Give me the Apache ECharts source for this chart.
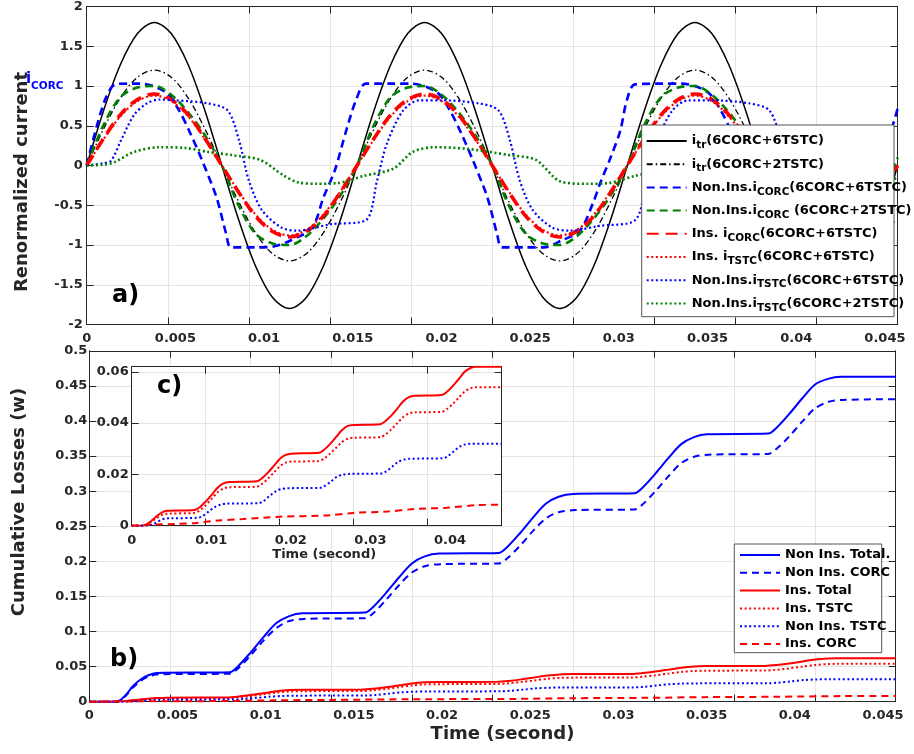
<!DOCTYPE html>
<html><head><meta charset="utf-8">
<script src="https://cdn.jsdelivr.net/npm/echarts@6/dist/echarts.min.js"></script>
<style>html,body{margin:0;padding:0;background:#fff}#c{width:914px;height:754px}</style>
</head><body><div id="c"></div>
<script>
// ---------------- DATA ----------------
// a) top panel: time (s) samples (every 1/16 of a 60 Hz cycle) for the regularly sampled curves
const timeTop = [0,0.00104,0.00208,0.00313,0.00417,0.00521,0.00625,0.00729,0.00833,0.00938,0.01042,0.01146,0.0125,0.01354,0.01458,0.01563,0.01667,0.01771,0.01875,0.01979,0.02083,0.02188,0.02292,0.02396,0.025,0.02604,0.02708,0.02813,0.02917,0.03021,0.03125,0.03229,0.03333,0.03438,0.03542,0.03646,0.0375,0.03854,0.03958,0.04063,0.04167,0.04271,0.04375,0.04479,0.04583,0.04688,0.04792,0.04896,0.05];
const itr66 = [0,0.69,1.27,1.66,1.8,1.66,1.27,0.69,0,-0.69,-1.27,-1.66,-1.8,-1.66,-1.27,-0.69,0,0.69,1.27,1.66,1.8,1.66,1.27,0.69,0,-0.69,-1.27,-1.66,-1.8,-1.66,-1.27,-0.69,0,0.69,1.27,1.66,1.8,1.66,1.27,0.69,0,-0.69,-1.27,-1.66,-1.8,-1.66,-1.27,-0.69,0];
const itr62 = [0,0.46,0.85,1.11,1.2,1.11,0.85,0.46,0,-0.46,-0.85,-1.11,-1.2,-1.11,-0.85,-0.46,0,0.46,0.85,1.11,1.2,1.11,0.85,0.46,0,-0.46,-0.85,-1.11,-1.2,-1.11,-0.85,-0.46,0,0.46,0.85,1.11,1.2,1.11,0.85,0.46,0,-0.46,-0.85,-1.11,-1.2,-1.11,-0.85,-0.46,0];
const nonInsCorc62 = [0,0.51,0.86,0.98,1.0,0.89,0.67,0.38,0,-0.51,-0.86,-0.98,-1.0,-0.89,-0.67,-0.38,0,0.51,0.86,0.98,1.0,0.89,0.67,0.38,0,-0.51,-0.86,-0.98,-1.0,-0.89,-0.67,-0.38,0,0.51,0.86,0.98,1.0,0.89,0.67,0.38,0,-0.51,-0.86,-0.98,-1.0,-0.89,-0.67,-0.38,0.1];
const insCorcCur = [0,0.34,0.64,0.83,0.9,0.83,0.64,0.34,0,-0.34,-0.64,-0.83,-0.9,-0.83,-0.64,-0.34,0,0.34,0.64,0.83,0.9,0.83,0.64,0.34,0,-0.34,-0.64,-0.83,-0.9,-0.83,-0.64,-0.34,0,0.34,0.64,0.83,0.9,0.83,0.64,0.34,0,-0.34,-0.64,-0.83,-0.9,-0.83,-0.64,-0.34,0];
const insTstcCur = [0,0.33,0.62,0.81,0.88,0.81,0.62,0.33,0,-0.33,-0.62,-0.81,-0.88,-0.81,-0.62,-0.33,0,0.33,0.62,0.81,0.88,0.81,0.62,0.33,0,-0.33,-0.62,-0.81,-0.88,-0.81,-0.62,-0.33,0,0.33,0.62,0.81,0.88,0.81,0.62,0.33,0,-0.33,-0.62,-0.81,-0.88,-0.81,-0.62,-0.33,0];
// irregularly read curves: [time (s), value]
const nonInsCorc66 = [[0,0],[0.0006,0.48],[0.0012,0.86],[0.00175,1.02],[0.0025,1.03],[0.0033,1.03],[0.0049,0.92],[0.0057,0.69],[0.0064,0.4],[0.0071,0.07],[0.008,-0.4],[0.0086,-0.86],[0.0089,-1.03],[0.0105,-1.03],[0.0115,-1.02],[0.0125,-0.95],[0.0139,-0.78],[0.0146,-0.4],[0.0153,-0.06],[0.016,0.44],[0.0166,0.82],[0.0172,1.03],[0.0186,1.03],[0.02,1.03],[0.0216,0.92],[0.0224,0.69],[0.0231,0.4],[0.0238,0.07],[0.0247,-0.4],[0.0253,-0.86],[0.0256,-1.03],[0.027,-1.03],[0.0282,-1.03],[0.0292,-0.95],[0.0304,-0.82],[0.0312,-0.48],[0.0317,-0.2],[0.0323,0.1],[0.0329,0.44],[0.0333,0.82],[0.0338,1.02],[0.0355,1.03],[0.0367,1.03],[0.0383,0.92],[0.0391,0.69],[0.0398,0.4],[0.0405,0.07],[0.0414,-0.4],[0.042,-0.86],[0.0423,-1.03],[0.0437,-1.03],[0.0449,-1.03],[0.0459,-0.95],[0.0471,-0.82],[0.0479,-0.48],[0.0484,-0.2],[0.049,0.1],[0.0496,0.44],[0.05,0.72]];
const nonInsTstc66 = [[0,0],[0.001,0.03],[0.0015,0.06],[0.0021,0.31],[0.0029,0.63],[0.0037,0.78],[0.0045,0.83],[0.0055,0.82],[0.0075,0.78],[0.0087,0.69],[0.0094,0.31],[0.01,-0.19],[0.0108,-0.56],[0.012,-0.78],[0.013,-0.82],[0.015,-0.74],[0.0172,-0.69],[0.0179,-0.19],[0.0185,0.27],[0.0195,0.69],[0.0205,0.82],[0.0218,0.82],[0.0242,0.78],[0.0254,0.69],[0.0261,0.31],[0.0267,-0.19],[0.0275,-0.56],[0.0287,-0.78],[0.0298,-0.82],[0.0316,-0.76],[0.0338,-0.69],[0.0345,-0.19],[0.0351,0.27],[0.0361,0.69],[0.0371,0.82],[0.0385,0.82],[0.0409,0.78],[0.0421,0.69],[0.0428,0.31],[0.0434,-0.19],[0.0442,-0.56],[0.0454,-0.78],[0.0465,-0.82],[0.0483,-0.76],[0.05,-0.7]];
const nonInsTstc62 = [[0,0],[0.001,0.01],[0.0017,0.04],[0.0029,0.17],[0.0045,0.23],[0.0061,0.22],[0.0075,0.17],[0.009,0.13],[0.0107,0.07],[0.0121,-0.12],[0.013,-0.21],[0.0142,-0.23],[0.0155,-0.22],[0.0171,-0.13],[0.0189,-0.04],[0.0201,0.17],[0.0214,0.23],[0.0234,0.21],[0.0261,0.13],[0.0277,0.07],[0.0292,-0.2],[0.0308,-0.23],[0.0322,-0.22],[0.0338,-0.13],[0.0356,-0.04],[0.0368,0.17],[0.0381,0.23],[0.0401,0.21],[0.0428,0.13],[0.0444,0.07],[0.0459,-0.2],[0.0475,-0.23],[0.05,-0.16]];

// b) / c) cumulative losses: [time (s), W]
const lossNonInsTotal = [[0,0],[0.0017,0],[0.0022,0.008],[0.0027,0.022],[0.0032,0.032],[0.0037,0.038],[0.0042,0.041],[0.0087,0.042],[0.0092,0.05],[0.01,0.07],[0.0108,0.092],[0.0116,0.112],[0.0124,0.122],[0.0132,0.126],[0.0171,0.127],[0.0176,0.135],[0.0184,0.155],[0.0192,0.177],[0.02,0.197],[0.0208,0.207],[0.0217,0.211],[0.0254,0.212],[0.0259,0.22],[0.0267,0.24],[0.0275,0.262],[0.0283,0.282],[0.0291,0.292],[0.03,0.296],[0.0338,0.297],[0.0343,0.305],[0.0351,0.325],[0.0359,0.347],[0.0367,0.367],[0.0375,0.377],[0.0383,0.381],[0.0421,0.382],[0.0426,0.39],[0.0434,0.41],[0.0442,0.432],[0.045,0.452],[0.0458,0.46],[0.0466,0.463],[0.05,0.463]];
const lossNonInsCorc = [[0,0],[0.0017,0],[0.0022,0.007],[0.0027,0.02],[0.0032,0.03],[0.0037,0.036],[0.0043,0.039],[0.0087,0.04],[0.0092,0.047],[0.01,0.066],[0.0108,0.087],[0.0116,0.105],[0.0124,0.115],[0.0133,0.118],[0.0171,0.119],[0.0176,0.126],[0.0184,0.145],[0.0192,0.166],[0.02,0.184],[0.0208,0.193],[0.0218,0.196],[0.0254,0.197],[0.0259,0.204],[0.0267,0.222],[0.0275,0.243],[0.0283,0.261],[0.0291,0.27],[0.0301,0.273],[0.0338,0.274],[0.0343,0.281],[0.0351,0.3],[0.0359,0.321],[0.0367,0.34],[0.0375,0.349],[0.0384,0.352],[0.0421,0.353],[0.0426,0.36],[0.0434,0.378],[0.0442,0.399],[0.045,0.418],[0.0458,0.427],[0.0467,0.43],[0.05,0.431]];
const lossInsTotal = [[0,0],[0.0015,0],[0.002,0.0005],[0.0027,0.002],[0.0034,0.0038],[0.0041,0.0052],[0.0048,0.0058],[0.0085,0.0061],[0.0092,0.0072],[0.01,0.0094],[0.0108,0.012],[0.0116,0.0148],[0.0124,0.0165],[0.0132,0.017],[0.0169,0.0173],[0.0176,0.0185],[0.0184,0.0207],[0.0192,0.0233],[0.02,0.026],[0.0208,0.0276],[0.0216,0.0281],[0.0253,0.0284],[0.026,0.0296],[0.0268,0.0318],[0.0276,0.0345],[0.0284,0.0372],[0.0292,0.0389],[0.03,0.0393],[0.0336,0.0396],[0.0343,0.0408],[0.0351,0.043],[0.0359,0.0457],[0.0367,0.0485],[0.0375,0.0502],[0.0382,0.0507],[0.0419,0.051],[0.0426,0.0522],[0.0434,0.0545],[0.0442,0.0572],[0.045,0.06],[0.0458,0.0615],[0.0464,0.062],[0.05,0.062]];
const lossInsTstc = [[0,0],[0.0015,0],[0.002,0.0004],[0.0027,0.0016],[0.0034,0.003],[0.0041,0.0042],[0.0048,0.0047],[0.0085,0.005],[0.0092,0.006],[0.01,0.008],[0.0108,0.0105],[0.0116,0.013],[0.0124,0.0145],[0.0132,0.015],[0.0169,0.0152],[0.0176,0.0163],[0.0184,0.0183],[0.0192,0.0207],[0.02,0.0231],[0.0208,0.0246],[0.0216,0.025],[0.0253,0.0252],[0.026,0.0262],[0.0268,0.0281],[0.0276,0.0303],[0.0284,0.0326],[0.0292,0.0339],[0.03,0.0343],[0.0336,0.0345],[0.0343,0.0356],[0.0351,0.0376],[0.0359,0.04],[0.0367,0.0424],[0.0375,0.0438],[0.0382,0.0442],[0.0419,0.0444],[0.0426,0.0455],[0.0434,0.0475],[0.0442,0.0499],[0.045,0.0523],[0.0458,0.0536],[0.0464,0.054],[0.05,0.054]];
const lossNonInsTstc = [[0,0],[0.0022,0],[0.0028,0.0005],[0.0034,0.0014],[0.004,0.0023],[0.0046,0.0028],[0.0052,0.0029],[0.009,0.0031],[0.0096,0.0038],[0.0104,0.0055],[0.0112,0.0072],[0.012,0.0082],[0.0128,0.0086],[0.0172,0.0088],[0.0178,0.0096],[0.0186,0.0115],[0.0194,0.0133],[0.0202,0.0143],[0.021,0.0146],[0.0255,0.0148],[0.0261,0.0155],[0.0269,0.0172],[0.0277,0.019],[0.0285,0.0199],[0.0293,0.0202],[0.0338,0.0204],[0.0344,0.0212],[0.0352,0.023],[0.036,0.0249],[0.0368,0.0258],[0.0376,0.0261],[0.0421,0.0263],[0.0427,0.0271],[0.0435,0.0289],[0.0443,0.0308],[0.0451,0.0317],[0.0459,0.032],[0.05,0.032]];
const lossInsCorc = [[0,0],[0.0027,0.0004],[0.006,0.0007],[0.0085,0.001],[0.0116,0.002],[0.015,0.0026],[0.02,0.0035],[0.0264,0.004],[0.03,0.005],[0.0345,0.0055],[0.0382,0.0065],[0.0425,0.007],[0.0466,0.008],[0.05,0.0082]];

const topNames = ['i_tr(6CORC+6TSTC)','i_tr(6CORC+2TSTC)','Non.Ins.i_CORC(6CORC+6TSTC)','Non.Ins.i_CORC (6CORC+2TSTC)','Ins. i_CORC(6CORC+6TSTC)','Ins. i_TSTC(6CORC+6TSTC)','Non.Ins.i_TSTC(6CORC+6TSTC)','Non.Ins.i_TSTC(6CORC+2TSTC)'];
const lossNames = ['Non Ins. Total.','Non Ins. CORC','Ins. Total','Ins. TSTC','Non Ins. TSTC','Ins. CORC'];

// ---------------- STYLE / LAYOUT ----------------
const FONT = '"DejaVu Sans", sans-serif';
const AX = '#262626', GR = '#e4e4e4';
const zip = (t, v) => t.map((x, i) => [x, v[i]]);

function boxX(gi, max, interval, z) {
  return [
    {gridIndex: gi, type: 'value', position: 'bottom', min: 0, max: max, interval: interval, z: z,
     axisLine: {show: true, onZero: false, lineStyle: {color: AX, width: 1}},
     axisTick: {show: true, inside: true, length: 7, lineStyle: {color: AX}},
     axisLabel: {show: false}, splitLine: {show: true, lineStyle: {color: GR, width: 1}}},
    {gridIndex: gi, type: 'value', position: 'top', min: 0, max: max, interval: interval, z: z,
     axisLine: {show: true, onZero: false, lineStyle: {color: AX, width: 1}},
     axisTick: {show: true, inside: true, length: 7, lineStyle: {color: AX}},
     axisLabel: {show: false}, splitLine: {show: false}}
  ];
}
function labelX(gi, max, interval, margin, z, name, nameGap, nameSize, namePadLeft) {
  return {gridIndex: gi, type: 'value', position: 'bottom', min: 0, max: max, interval: interval, z: z,
    axisLine: {show: false, onZero: false}, axisTick: {show: false}, splitLine: {show: false},
    axisLabel: {show: true, margin: margin, showMaxLabel: false, fontFamily: FONT, fontWeight: 'bold', fontSize: 13, color: AX},
    name: name, nameLocation: 'middle', nameGap: nameGap,
    nameTextStyle: {fontFamily: FONT, fontWeight: 'bold', fontSize: nameSize, color: AX, padding: [0, 0, 0, namePadLeft]}};
}
function boxY(gi, min, max, interval, margin, z, showMax) {
  return [
    {gridIndex: gi, type: 'value', position: 'left', min: min, max: max, interval: interval, z: z,
     axisLine: {show: true, onZero: false, lineStyle: {color: AX, width: 1}},
     axisTick: {show: true, inside: true, length: 7, lineStyle: {color: AX}},
     axisLabel: {show: true, margin: margin, showMaxLabel: showMax, fontFamily: FONT, fontWeight: 'bold', fontSize: 13, color: AX},
     splitLine: {show: true, lineStyle: {color: GR, width: 1}}},
    {gridIndex: gi, type: 'value', position: 'right', min: min, max: max, interval: interval, z: z,
     axisLine: {show: true, onZero: false, lineStyle: {color: AX, width: 1}},
     axisTick: {show: true, inside: true, length: 7, lineStyle: {color: AX}},
     axisLabel: {show: false}, splitLine: {show: false}}
  ];
}

function line(name, data, xi, yi, color, width, type, z, smooth) {
  return {name: name, type: 'line', data: data, xAxisIndex: xi, yAxisIndex: yi,
    symbol: 'none', showSymbol: false, smooth: smooth, z: z, clip: true,
    lineStyle: {color: color, width: width, type: type, cap: 'butt'}, itemStyle: {color: color}};
}

const RED = '#ff0000', BLUE = '#0000ff', GREEN = '#008000', BLACK = '#000000';
const DOT = [2, 2.6];
const SINE_SMOOTH = 0.33;

const series = [
  line(topNames[0], zip(timeTop, itr66), 0, 0, BLACK, 1.5, 'solid', 2, SINE_SMOOTH),
  line(topNames[1], zip(timeTop, itr62), 0, 0, BLACK, 1.3, [6, 3, 1.5, 3], 2, SINE_SMOOTH),
  line(topNames[2], nonInsCorc66, 0, 0, BLUE, 2.6, [8, 5], 2, 0.3),
  line(topNames[3], zip(timeTop, nonInsCorc62), 0, 0, GREEN, 2.6, [8, 5], 2, SINE_SMOOTH),
  line(topNames[4], zip(timeTop, insCorcCur), 0, 0, RED, 3.6, [12, 7], 2, SINE_SMOOTH),
  line(topNames[5], zip(timeTop, insTstcCur), 0, 0, RED, 2.2, DOT, 2, SINE_SMOOTH),
  line(topNames[6], nonInsTstc66, 0, 0, BLUE, 2.2, DOT, 2, 0.3),
  line(topNames[7], nonInsTstc62, 0, 0, GREEN, 2.6, DOT, 2, 0.3),
  // b)
  line(lossNames[0], lossNonInsTotal, 3, 2, BLUE, 2, 'solid', 2, 0.3),
  line(lossNames[1], lossNonInsCorc, 3, 2, BLUE, 2, [7, 5], 2, 0.3),
  line(lossNames[2], lossInsTotal, 3, 2, RED, 2, 'solid', 2, 0.3),
  line(lossNames[3], lossInsTstc, 3, 2, RED, 2, DOT, 2, 0.3),
  line(lossNames[4], lossNonInsTstc, 3, 2, BLUE, 2, DOT, 2, 0.3),
  line(lossNames[5], lossInsCorc, 3, 2, RED, 2, [7, 5], 2, 0.3),
  // c) inset
  line('c ' + lossNames[2], lossInsTotal, 6, 4, RED, 2, 'solid', 3, 0.3),
  line('c ' + lossNames[3], lossInsTstc, 6, 4, RED, 2, DOT, 3, 0.3),
  line('c ' + lossNames[4], lossNonInsTstc, 6, 4, BLUE, 2, DOT, 3, 0.3),
  line('c ' + lossNames[5], lossInsCorc, 6, 4, RED, 2, [7, 5], 3, 0.3)
];

function richName(n) {
  const m = n.match(/^(.*?)_([A-Za-z]+)(.*)$/);
  if (!m) return '{b|' + n + '}';
  return '{b|' + m[1] + '}{s|' + m[2] + '}{b|' + m[3] + '}';
}

const option = {
  animation: false,
  backgroundColor: '#ffffff',
  grid: [
    {left: 86.7, top: 6.5, right: 16.3, bottom: 429.5, outerBoundsMode: 'none'},
    {left: 89.3, top: 350.8, right: 18.3, bottom: 52.3, outerBoundsMode: 'none'},
    {left: 131.7, top: 366.7, right: 412.3, bottom: 228.3, show: true, backgroundColor: '#ffffff', borderWidth: 0, z: 1, outerBoundsMode: 'none'}
  ],
  xAxis: [].concat(
    boxX(0, 0.05, 0.005, 0), [labelX(0, 0.04572, 0.005, 8, 0, '', 0, 13, 0)],
    boxX(1, 0.05, 0.005, 0), [labelX(1, 0.04572, 0.005, 7, 0, 'Time (second)', 24, 18, 20)],
    boxX(2, 0.05, 0.01, 2), [labelX(2, 0.0465, 0.01, 8, 2, 'Time (second)', 22, 13, 15)]
  ),
  yAxis: [].concat(
    boxY(0, -2, 2, 0.5, 4, 0, true),
    boxY(1, 0, 0.5, 0.05, 2, 0, true),
    boxY(2, 0, 0.062, 0.02, 3, 2, false)
  ),
  legend: [
    {data: topNames, orient: 'vertical', left: 641.7, top: 125, padding: [6, 4, 3, 4],
     itemWidth: 40, itemHeight: 14, itemGap: 3.2, selectedMode: false,
     itemStyle: {opacity: 0}, z: 5,
     formatter: richName,
     textStyle: {fontFamily: FONT, fontWeight: 'bold', fontSize: 13, color: '#000',
       rich: {b: {fontFamily: FONT, fontWeight: 'bold', fontSize: 13, color: '#000', lineHeight: 16},
              s: {fontFamily: FONT, fontWeight: 'bold', fontSize: 10.5, color: '#000', lineHeight: 12, padding: [9, 0, 0, 0]}}}},
    {data: lossNames, orient: 'vertical', left: 734.3, top: 544, padding: [3, 4, 2, 4.7],
     itemWidth: 40, itemHeight: 12, itemGap: 1.8, selectedMode: false,
     itemStyle: {opacity: 0}, z: 5,
     textStyle: {fontFamily: FONT, fontWeight: 'bold', fontSize: 13, color: '#000', lineHeight: 16}}
  ],
  graphic: [
    {type: 'rect', z: 4, shape: {x: 641.7, y: 125, width: 252.3, height: 191.7},
     style: {fill: '#ffffff', stroke: '#555555', lineWidth: 1}},
    {type: 'rect', z: 4, shape: {x: 734.3, y: 544, width: 147.4, height: 108.7},
     style: {fill: '#ffffff', stroke: '#555555', lineWidth: 1}},
    {type: 'text', x: 22, y: 182, rotation: Math.PI / 2, z: 10,
     style: {text: 'Renormalized current', x: 0, y: 0, font: 'bold 18px "DejaVu Sans"', fill: AX,
             align: 'center', verticalAlign: 'middle', textAlign: 'center', textVerticalAlign: 'middle'}},
    {type: 'text', x: 19, y: 502, rotation: Math.PI / 2, z: 10,
     style: {text: 'Cumulative Losses (w)', x: 0, y: 0, font: 'bold 18px "DejaVu Sans"', fill: AX,
             align: 'center', verticalAlign: 'middle', textAlign: 'center', textVerticalAlign: 'middle'}},
    {type: 'text', x: 112, y: 296, z: 10,
     style: {text: 'a)', font: 'bold 24px "DejaVu Sans"', fill: '#000', verticalAlign: 'middle', textVerticalAlign: 'middle'}},
    {type: 'text', x: 110, y: 660, z: 10,
     style: {text: 'b)', font: 'bold 24px "DejaVu Sans"', fill: '#000', verticalAlign: 'middle', textVerticalAlign: 'middle'}},
    {type: 'text', x: 157, y: 387, z: 10,
     style: {text: 'c)', font: 'bold 24px "DejaVu Sans"', fill: '#000', verticalAlign: 'middle', textVerticalAlign: 'middle'}},
    {type: 'text', x: 26, y: 72, z: 11,
     style: {text: 'i', font: 'bold 15px "DejaVu Sans"', fill: BLUE, verticalAlign: 'top', textVerticalAlign: 'top'}},
    {type: 'text', x: 31, y: 81, z: 11,
     style: {text: 'CORC', font: 'bold 10.5px "DejaVu Sans"', fill: BLUE, verticalAlign: 'top', textVerticalAlign: 'top'}}
  ],
  series: series
};

const chart = echarts.init(document.getElementById('c'), null, {renderer: 'canvas'});
chart.setOption(option);
</script></body></html>
